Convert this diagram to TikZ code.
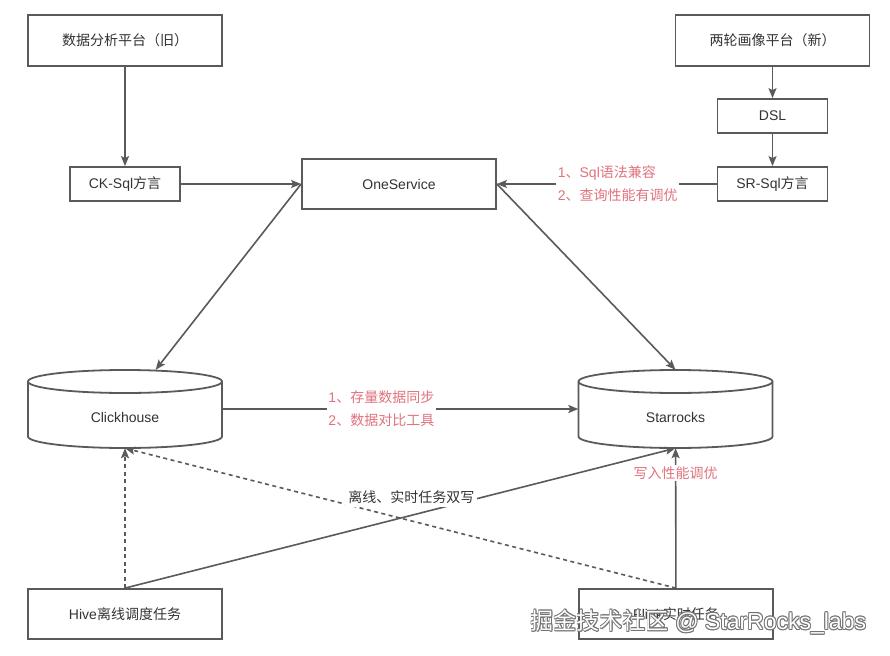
\documentclass[tikz,border=0pt]{standalone}
\usepackage{fontspec}
\setmainfont{Liberation Sans}
\newfontfamily\cjk{Noto Sans CJK SC}
\usetikzlibrary{arrows.meta}
\definecolor{ln}{HTML}{5A5A5A}
\definecolor{tx}{HTML}{333333}
\definecolor{rd}{HTML}{E0737D}
\begin{document}
\begin{tikzpicture}[x=1pt,y=-1pt,
  box/.style={draw=ln, line width=1.8pt, fill=white, minimum width=194pt, minimum height=51pt, inner sep=0pt, text=tx, font=\fontsize{14}{17}\selectfont},
  smallbox/.style={box, minimum width=110pt, minimum height=34pt},
  cylbox/.style={minimum width=194pt, minimum height=78pt, inner sep=0pt},
  conn/.style={draw=ln, line width=1.6pt, -{Stealth[length=10pt,width=8pt,inset=2pt]}},
  dconn/.style={conn, dash pattern=on 4pt off 3.5pt},
  lbl/.style={fill=white, text=rd, inner sep=1.5pt, align=left, font=\fontsize{14}{23}\selectfont},
  blbl/.style={fill=white, text=tx, inner sep=3pt, font=\fontsize{14}{17}\selectfont},
  cyltext/.style={text=tx, font=\fontsize{14}{17}\selectfont},
  wm/.style={font=\fontsize{23}{26}\selectfont, inner sep=0pt}
]
\useasboundingbox[fill=white] (0,0) rectangle (890,655);

% boxes
\node[box] (old) at (125,40.5) {\cjk 数据分析平台（旧）};
\node[smallbox] (ckq) at (125,184) {CK-Sql{\cjk 方言}};
\node[box, minimum height=50pt] (os) at (399,184) {OneService};
\node[box] (new) at (772.5,40.5) {\cjk 两轮画像平台（新）};
\node[smallbox] (dsl) at (772.5,116) {DSL};
\node[smallbox] (srq) at (772.5,184) {SR-Sql{\cjk 方言}};
\node[box, minimum height=50pt] (hive) at (125,614) {Hive{\cjk 离线调度任务}};
\node[box, minimum height=50pt] (flink) at (676,614) {Flink{\cjk 实时任务}};

% cylinders
\node[cylbox] (ck) at (125,409) {};
\node[cylbox] (sr) at (675.5,409) {};
\foreach \cx in {125,675.5}{
  \draw[ln, line width=1.8pt] (\cx,381.5) ellipse [x radius=97, y radius=11.5];
  \draw[ln, line width=1.8pt] (\cx-97,381.5) -- (\cx-97,436.5)
     arc[start angle=180, end angle=0, x radius=97, y radius=11.5] -- (\cx+97,381.5);
}
\node[cyltext] (ckt) at (125,417) {Clickhouse};
\node[cyltext] (srt) at (675.5,417) {Starrocks};

% connectors
\draw[conn] (old) -- (ckq);
\draw[conn] (ckq) -- (os);
\draw[conn] (new) -- (dsl);
\draw[conn] (dsl) -- (srq);
\draw[conn] (srq) -- node[lbl, pos=0.45] (l1) {1{\cjk 、}Sql{\cjk 语法兼容}\\2{\cjk 、查询性能有调优}} (os);
\draw[conn] (os.west) -- (ck);
\draw[conn] (os.east) -- (sr.north);
\draw[conn] (ck) -- node[lbl, pos=0.447] (l2) {1{\cjk 、存量数据同步}\\2{\cjk 、数据对比工具}} (sr);
\draw[dconn] (hive) -- (ck);
\draw[dconn] (flink.north) -- (ck.south);
\draw[conn] (hive.north) -- node[blbl, pos=0.52, yshift=18pt] (l3) {\cjk 离线、实时任务双写} (sr.south);
\draw[conn] (flink) -- node[lbl, pos=0.82] (l4) {\cjk 写入性能调优} (sr);

% watermark
\foreach \dx/\dy in {-0.9/0,0.9/0,0/-0.9,0/0.9,-0.7/-0.7,0.7/0.7,-0.7/0.7,0.7/-0.7}{
  \node[wm, text=black!55] at (698.5+\dx,622+\dy) {{\cjk 掘金技术社区} @ StarRocks\_labs};
}
\node[wm, text=white] (wmk) at (698.5,622) {{\cjk 掘金技术社区} @ StarRocks\_labs};
\end{tikzpicture}
\end{document}
